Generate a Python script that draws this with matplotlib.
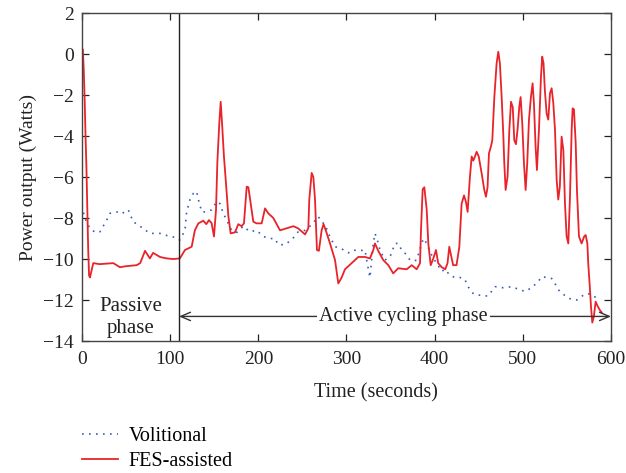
import matplotlib
matplotlib.use("Agg")
import matplotlib.pyplot as plt

plt.rcParams['font.family'] = ['Liberation Serif', 'DejaVu Serif']
plt.rcParams['axes.unicode_minus'] = True

# FES-assisted (red solid)
fes_t = [0, 1, 2, 3, 4, 5, 6, 7, 8, 9, 12.8, 20, 35.5, 43, 50, 62, 66, 71.5, 77, 80.6,
         88.5, 96, 103.5, 111, 116.8, 124.4, 128, 132, 137.6, 141, 144, 147, 149.7, 152, 153.5, 155.7,
         157.3, 159, 161, 163.3, 166, 168.6, 173.5, 177.3, 181, 183.7, 186.8, 188.7, 191.3, 194.3, 198,
         203.8, 207.6, 211.3, 217, 224.6, 232, 239.7, 245, 253, 256.7, 257.8, 260.5, 262.4, 264.3, 266.5,
         268.7, 271.8, 274, 276.5, 281.3, 287, 290.7, 294.5, 298.3, 305.8, 313.4, 321, 326.6, 330.4,
         332.3, 336, 341.7, 347.4, 353, 358.7, 368.3, 374, 379.6, 383.4, 384.5, 386.4, 388.3, 391,
         392.8, 395.5, 398.3, 401.5, 404, 408, 412, 414.6, 416.6, 418, 421, 424.8, 428, 430.6,
         433.3, 435.4, 437.4, 440, 442, 443.8, 445.7, 447.6, 450, 453.3, 456.3, 458.2, 460, 461.6,
         463.9, 465.4, 467.7, 470.3, 472.2, 474, 476, 477.8, 479, 480.5, 482.7, 484.7, 486.6, 488.6,
         490.3, 492.2, 494, 496, 497.5, 499.4, 501.3, 503.2, 505, 507, 509.2, 511.1, 512.6, 514.5,
         516, 518.3, 520.6, 522, 523.5, 525, 527, 528.9, 530.8, 532.7, 534.6, 536.5, 538.4, 540.2,
         542, 544, 546, 547.8, 549.7, 551.6, 553.5, 555.4, 556.5, 558, 560, 561.4, 563.7, 566.7,
         569.6, 571.3, 573.2, 574.2, 576.2, 577.3, 578.8, 580.6, 582.6, 584.9, 587.5, 589.4]
fes_p = [0.3, 0.2, -0.8, -2.2, -4.0, -5.5, -7.5, -9.5, -10.8, -10.9, -10.2, -10.25, -10.2, -10.4, -10.35, -10.3, -10.2, -9.6, -9.97, -9.7,
         -9.9, -9.97, -10.0, -9.97, -9.56, -9.4, -8.6, -8.26, -8.13, -8.3, -8.1, -8.25, -8.9, -7.6, -5.3, -3.4,
         -2.33, -3.5, -5.0, -6.3, -7.9, -8.75, -8.7, -8.3, -8.4, -8.26, -6.47, -6.5, -7.28, -8.18, -8.26,
         -8.26, -7.53, -7.77, -8.0, -8.6, -8.5, -8.4, -8.5, -8.8, -8.5, -7.1, -5.8, -6.0, -7.1, -9.56,
         -9.6, -8.6, -8.3, -8.6, -9.24, -10.05, -11.19, -10.9, -10.5, -10.2, -9.9, -9.9, -9.97, -9.56,
         -9.24, -9.6, -10.05, -10.3, -10.7, -10.45, -10.5, -10.3, -10.5, -10.2, -8.6, -6.6, -6.5, -7.6,
         -9.24, -10.3, -10.0, -9.56, -10.2, -10.4, -10.5, -10.2, -9.4, -9.7, -10.3, -10.3, -9.4, -7.3,
         -6.9, -7.2, -7.7, -6.0, -5.0, -5.2, -5.0, -4.77, -5.0, -5.82, -6.63, -6.96, -6.5, -4.85,
         -4.5, -4.2, -2.1, -0.45, 0.11, -0.45, -2.1, -3.87, -5.33, -6.63, -5.98, -3.7, -2.33, -2.6,
         -4.2, -4.4, -3.7, -2.57, -2.1, -3.4, -5.33, -6.63, -5.33, -3.2, -2.1, -1.43, -2.4, -4.52,
         -5.66, -3.7, -1.1, -0.13, -0.45, -1.76, -2.9, -3.2, -1.92, -1.67, -2.4, -3.7, -6.15, -7.1,
         -6.47, -4.03, -4.7, -7.28, -8.9, -9.24, -6.96, -3.7, -2.65, -2.7, -4.36, -6.63, -8.9, -9.24,
         -8.9, -8.83, -9.24, -10.2, -11.5, -12.3, -13.1, -12.8, -12.08, -12.3, -12.5, -12.6]

# Volitional (blue dotted)
vol_t = [0, 2, 5, 9, 15, 20.4, 28, 31.8, 39.3, 44.5, 52.5, 58, 65.8, 77, 88.5, 99.8, 107, 111,
         116.8, 118.7, 122.5, 126.3, 130, 132, 135.8, 141.4, 147, 152.8, 156.5, 160.3, 164, 169.8,
         175.5, 183, 190.5, 198, 205.6, 213, 218.7, 222.7, 230, 237.7, 245.3, 253, 258.6, 263, 268,
         271.8, 275.6, 279.4, 283.2, 287, 294.5, 302, 307.6, 313.3, 321, 322.9, 324.8, 326.6, 328.5,
         330.4, 332.3, 335, 338, 343.6, 349.3, 352.3, 355, 358.7, 362.5, 368.3, 372, 375.8, 379.6,
         385.3, 387.2, 391, 394.7, 398.5, 402.3, 408, 411.8, 417.4, 423, 428.7, 434.4, 437, 444, 455,
         460.7, 468.4, 477.8, 487.3, 496.8, 502.5, 510, 517.5, 521.4, 527, 532.7, 536.5, 542, 549.7,
         555.4, 561, 566, 570.5, 576, 581.8, 585.6, 588]
vol_p = [-7.4, -7.8, -8.2, -8.5, -8.7, -8.67, -8.1, -7.77, -7.7, -7.8, -7.6, -8.18, -8.4, -8.75, -8.75, -8.9, -8.95, -9.07,
         -8.6, -7.7, -7.1, -6.8, -6.7, -7.1, -7.7, -7.7, -7.6, -7.2, -7.3, -7.77, -8.1, -8.6,
         -8.7, -8.4, -8.67, -8.6, -8.9, -9.0, -9.0, -9.3, -9.3, -9.07, -8.67, -8.6, -8.4, -8.2, -7.93,
         -8.2, -8.3, -8.75, -9.07, -9.4, -9.5, -9.7, -9.56, -9.6, -9.56, -10.05, -10.5, -10.9, -10.05,
         -9.24, -8.75, -9.07, -9.56, -10.05, -9.9, -9.56, -9.24, -9.24, -9.56, -9.8, -10.05, -10.1, -10.05,
         -9.24, -9.0, -9.24, -9.64, -9.97, -10.2, -10.6, -10.5, -10.8, -10.9, -10.9, -11.0, -11.3, -11.7, -11.8,
         -11.8, -11.35, -11.4, -11.35, -11.5, -11.58, -11.4, -11.1, -10.86, -10.9, -10.95, -11.2, -11.6, -11.84,
         -11.98, -12.0, -11.85, -11.7, -11.7, -11.85, -11.92, -11.95]

xticks = [0, 100, 200, 300, 400, 500, 600]
yticks = [-14, -12, -10, -8, -6, -4, -2, 0, 2]
phase_split = 110

fig = plt.figure(figsize=(6.26, 4.73), dpi=100)
ax = fig.add_axes([0.131, 0.279, 0.845, 0.6935])

ax.plot(vol_t, vol_p, color='#3a5cb8', linewidth=1.2, linestyle=(0, (1, 3.2)), label='Volitional')
ax.plot(fes_t, fes_p, color='#e8232a', linewidth=1.3, label='FES-assisted')

ax.axvline(phase_split, color='#222222', linewidth=1.0)

ax.set_xlim(0, 600)
ax.set_ylim(-14, 2)
ax.set_xticks(xticks)
ax.set_yticks(yticks)
ax.tick_params(direction='in', top=True, right=True, length=5, width=0.9, labelsize=14, colors='#222222')
ax.tick_params(axis='y', pad=6)
ax.tick_params(axis='x', pad=7)
for s in ax.spines.values():
    s.set_color('#444444')
    s.set_linewidth(1.0)

ax.set_xlabel('Time (seconds)', fontsize=14.5, color='#222222')
ax.xaxis.set_label_coords(0.556, -0.13)
ax.set_ylabel('Power output (Watts)', fontsize=14, color='#222222', labelpad=4)

ax.text(55, -12.85, 'Passive\nphase', ha='center', va='center', fontsize=15,
        color='#222222', linespacing=1.15)

ax.annotate('', xy=(phase_split, -12.8), xytext=(600, -12.8),
            arrowprops=dict(arrowstyle='<->,head_length=0.7,head_width=0.3', color='#333333',
                            linewidth=1.0, shrinkA=0, shrinkB=0))
ax.text(365, -12.8, 'Active cycling phase', ha='center', va='center', fontsize=14.5,
        color='#222222', bbox=dict(facecolor='white', edgecolor='none', pad=1.5))

fig.legend(loc='upper left', bbox_to_anchor=(0.131, 0.097), frameon=False, fontsize=14.5,
           handlelength=1.8, handletextpad=0.5, labelspacing=0.3, borderpad=0, borderaxespad=0)

fig.savefig('out.png', dpi=100)
